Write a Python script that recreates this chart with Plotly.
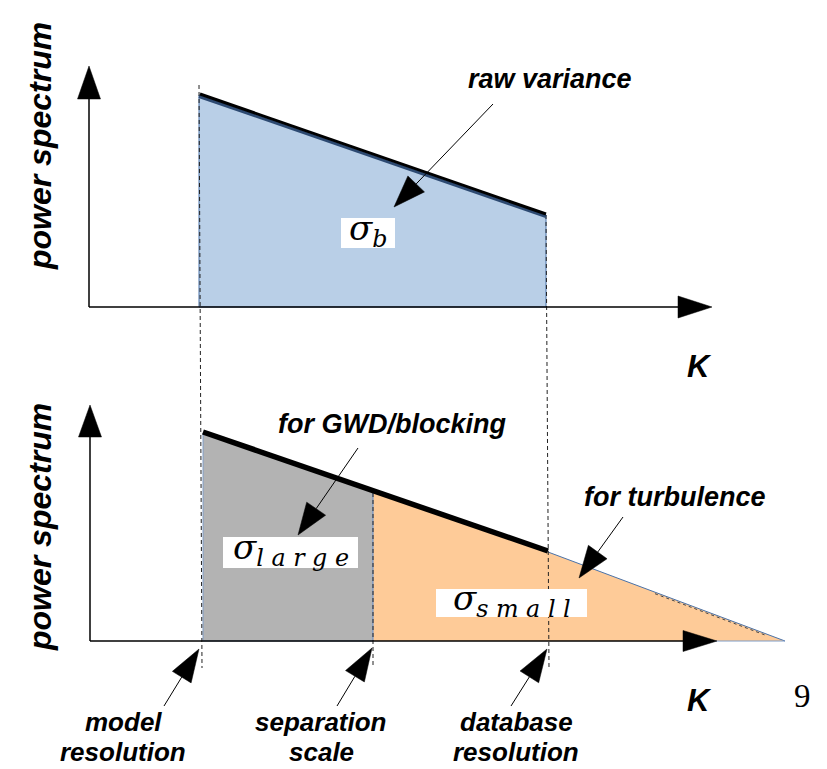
import math
import plotly.graph_objects as go

W, H = 827, 769

# ---- schematic values (diagram units = pixels, y grows downward) ----
# top panel: raw spectrum
top_origin = (89, 307)
top_xaxis_tip = 712
top_yaxis_tip = 66
top_k = [199, 546]            # model resolution .. database resolution
top_power = [95, 215]

# bottom panel: split spectrum
bot_origin = (90, 641)
bot_xaxis_tip = 717
bot_yaxis_tip = 405
large_k = [203, 373]          # model resolution .. separation scale
large_power = [433, 492]
small_k = [373, 548, 785]     # separation scale .. database res .. extrapolated end
small_power = [492, 552, 641]

# guide (dashed) lines
guide_model = [(199, 85), (202, 668)]
guide_db = [(546, 215), (549, 668)]
guide_sep = [(373, 493), (373, 668)]

# labels
pointer_labels = ["raw variance", "for GWD/blocking", "for turbulence"]
pointer_text_pos = [(550, 79), (392, 424), (675, 497)]
pointer_from = [(493, 104), (358, 448), (623, 517)]
pointer_tip = [(394, 207), (298, 535), (579, 578)]

scale_line1 = ["model", "separation", "database"]
scale_line2 = ["resolution", "scale", "resolution"]
scale_text_x = [123, 321, 516]
scale_from = [(164, 706), (337, 706), (511, 706)]
scale_tip = [(199, 649), (372, 648), (547, 649)]

sigma_main = ["σ", "σ", "σ"]
sigma_sub = ["b", "l a r g e", "s m a l l"]
sigma_box = [(341, 218, 395, 248), (223, 537, 358, 568), (436, 589, 587, 617)]

BLUE_FILL = "#b9cfe7"
BLUE_EDGE = "#4a72a8"
GRAY_FILL = "#b3b3b3"
ORANGE_FILL = "#fecb98"

fig = go.Figure()


def poly(xs, ys, fill, line_color=None, lw=0):
    fig.add_trace(go.Scatter(
        x=list(xs) + [xs[0]], y=list(ys) + [ys[0]], mode="lines",
        fill="toself", fillcolor=fill,
        line=dict(color=line_color or fill, width=lw),
        hoverinfo="skip"))


def line(xs, ys, color="black", width=1.0, dash=None):
    fig.add_trace(go.Scatter(
        x=xs, y=ys, mode="lines",
        line=dict(color=color, width=width, dash=dash),
        hoverinfo="skip"))


def arrow(p0, p1, head_len=32, head_w=22, width=1.0):
    x0, y0 = p0
    x1, y1 = p1
    d = math.hypot(x1 - x0, y1 - y0)
    ux, uy = (x1 - x0) / d, (y1 - y0) / d
    bx, by = x1 - ux * head_len, y1 - uy * head_len
    px, py = -uy, ux
    line([x0, bx], [y0, by], width=width)
    poly([x1, bx + px * head_w / 2, bx - px * head_w / 2],
         [y1, by + py * head_w / 2, by - py * head_w / 2], "black", "black", 0.5)


# ---- top panel fill ----
ox, oy = top_origin
poly([top_k[0], top_k[0], top_k[1], top_k[1]],
     [oy, top_power[0], top_power[1], oy], BLUE_FILL, BLUE_EDGE, 1)

# ---- bottom panel fills ----
bx0, by0 = bot_origin
poly([large_k[0], large_k[0], large_k[1], large_k[1]],
     [by0, large_power[0], large_power[1], by0], GRAY_FILL, "#7f9cc6", 1)
poly([small_k[0], small_k[0], small_k[1], small_k[2]],
     [by0, small_power[0], small_power[1], small_power[2]], ORANGE_FILL, ORANGE_FILL, 0)
line(small_k[1:], small_power[1:], color=BLUE_EDGE, width=1)
line([small_k[0], small_k[0]], [by0, small_power[0]], color="#7f9cc6", width=1.2)
line([690, 785], [by0, by0], color="#7f9cc6", width=1)
slope = (small_power[2] - small_power[1]) / (small_k[2] - small_k[1])
line([655, 765], [small_power[1] + (655 - small_k[1]) * slope + 1.5,
                  small_power[1] + (765 - small_k[1]) * slope + 1.5],
     color="#444444", width=1, dash="dot")

# ---- dashed guides ----
for g in (guide_model, guide_db, guide_sep):
    line([g[0][0], g[1][0]], [g[0][1], g[1][1]], color="#222222", width=1, dash="4px,3px")

# ---- spectrum top lines ----
line([top_k[0], top_k[1]], [top_power[0] + 1.5, top_power[1] + 1.5], color="#2d4a72", width=3)
line([top_k[0] + 1, top_k[1]], [top_power[0] - 1, top_power[1] - 1], color="black", width=3)
line([large_k[0], small_k[1]], [large_power[0] - 1, small_power[1] - 1], color="black", width=5.5)

# ---- axes ----
arrow((ox, oy), (ox, top_yaxis_tip), head_len=33, head_w=23, width=1.5)
arrow((ox, oy), (top_xaxis_tip, oy), head_len=34, head_w=22, width=1.5)
arrow((bx0, by0), (bx0, bot_yaxis_tip), head_len=32, head_w=23, width=1.5)
arrow((bx0, by0), (bot_xaxis_tip, by0), head_len=34, head_w=21, width=1.5)

# ---- pointer arrows ----
for p0, p1 in zip(pointer_from, pointer_tip):
    arrow(p0, p1, head_len=32, head_w=23)
for p0, p1 in zip(scale_from, scale_tip):
    arrow(p0, p1, head_len=33, head_w=22)

# ---- white boxes behind sigma labels ----
for (x0, y0, x1, y1) in sigma_box:
    poly([x0, x1, x1, x0], [y0, y0, y1, y1], "white", "white", 0)

bold_it = dict(family="Liberation Sans, Arial, sans-serif", size=27, color="black",
               weight="bold", style="italic")

anns = []
for txt, (x, y) in zip(pointer_labels, pointer_text_pos):
    anns.append(dict(x=x, y=y, text=txt, showarrow=False, xanchor="center", yanchor="middle",
                     font=bold_it))
for t1, t2, x in zip(scale_line1, scale_line2, scale_text_x):
    anns.append(dict(x=x, y=722, text=t1, showarrow=False, xanchor="center", yanchor="middle",
                     font=dict(bold_it, size=26)))
    anns.append(dict(x=x, y=752, text=t2, showarrow=False, xanchor="center", yanchor="middle",
                     font=dict(bold_it, size=26)))
for y in (146, 527):
    anns.append(dict(x=40, y=y, text="power spectrum", textangle=-90, showarrow=False,
                     xanchor="center", yanchor="middle", font=dict(bold_it, size=32)))
for y in (366, 700):
    anns.append(dict(x=699, y=y, text="K", showarrow=False, xanchor="center", yanchor="middle",
                     font=dict(bold_it, size=31)))
anns.append(dict(x=802, y=696, text="9", showarrow=False, xanchor="center", yanchor="middle",
                 font=dict(family="Liberation Serif, serif", size=33, color="black")))
for m, s, (x0, y0, x1, y1) in zip(sigma_main, sigma_sub, sigma_box):
    anns.append(dict(x=(x0 + x1) / 2, y=(y0 + y1) / 2 - 3, text=f"{m}<sub>{s}</sub>",
                     showarrow=False, xanchor="center", yanchor="middle",
                     font=dict(family="DejaVu Serif, serif", size=34, color="black",
                               style="italic")))

fig.update_layout(
    width=W, height=H, margin=dict(l=0, r=0, t=0, b=0),
    paper_bgcolor="white", plot_bgcolor="white", showlegend=False,
    xaxis=dict(range=[0, W], visible=False, fixedrange=True),
    yaxis=dict(range=[H, 0], visible=False, fixedrange=True),
    annotations=anns,
)

fig.write_html("out.html")
